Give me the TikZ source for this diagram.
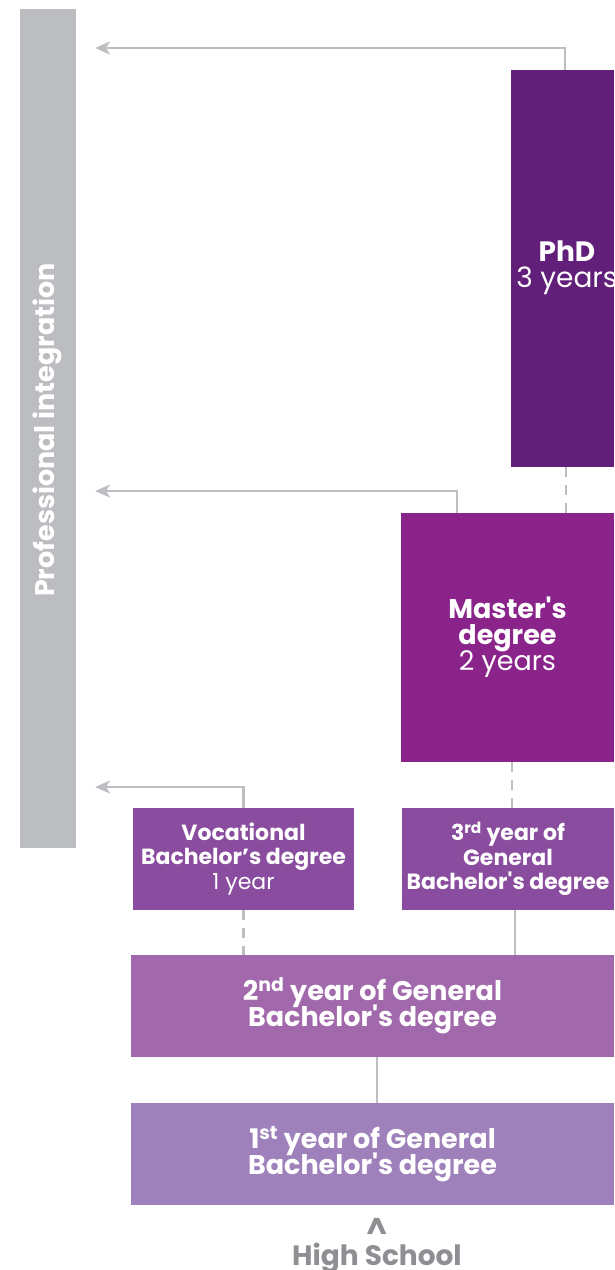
\documentclass[tikz,border=0pt]{standalone}
\usepackage{fontspec}
\setmainfont{Poppins}[Ligatures=TeXOff]
\usetikzlibrary{arrows.meta}
\definecolor{bargray}{HTML}{BCBDC1}
\definecolor{linegray}{HTML}{BDBEC2}
\definecolor{phdc}{HTML}{621F7A}
\definecolor{masterc}{HTML}{8A248B}
\definecolor{thirdc}{HTML}{894C9E}
\definecolor{secondc}{HTML}{A169AC}
\definecolor{firstc}{HTML}{9E80BA}
\definecolor{hsgray}{HTML}{8E8F92}
\newcommand{\tightls}{\lineskiplimit=-30pt\relax\lineskip=0pt\relax}
\begin{document}
\begin{tikzpicture}[x=1pt,y=-1pt,
  box/.style={rectangle,inner sep=0pt,text=white,align=center,font=\fontsize{27}{26}\selectfont\tightls},
  sbox/.style={box,font=\fontsize{22}{24.5}\selectfont\tightls},
  conn/.style={draw=linegray,line width=2.5pt},
  dconn/.style={conn,dash pattern=on 10pt off 8pt},
  arr/.style={conn,-{Stealth[length=15pt,width=13pt,inset=4pt]}}]
\useasboundingbox (0,0) rectangle (614,1270);
% gray bar
\node[fill=bargray,minimum width=56pt,minimum height=839pt,inner sep=0pt] (bar) at (48,428.5) {};
\node[rotate=90,text=white,font=\bfseries\fontsize{27}{27}\selectfont] (bartext) at (47,430) {Professional integration};
% boxes
\node[box,fill=phdc,minimum width=103pt,minimum height=397pt] (phd) at (562.5,268.5) {};
\node[box,font=\fontsize{28}{26}\selectfont\tightls] (phdt) at (567,268) {\textbf{PhD}\\3 years};
\node[box,fill=masterc,minimum width=213pt,minimum height=249pt] (master) at (507.5,637.5) {\textbf{Master's}\\\textbf{degree}\\2 years};
\node[sbox,fill=thirdc,minimum width=221pt,minimum height=102pt] (voc) at (243.5,859) {\textbf{Vocational}\\\textbf{Bachelor’s degree}\\1 year};
\node[sbox,fill=thirdc,minimum width=212pt,minimum height=102pt] (third) at (508,859) {\textbf{3\textsuperscript{rd} year of}\\\textbf{General}\\\textbf{Bachelor's degree}};
\node[box,fill=secondc,minimum width=483pt,minimum height=102pt] (second) at (372.5,1006) {\textbf{2\textsuperscript{nd} year of General}\\\textbf{Bachelor's degree}};
\node[box,fill=firstc,minimum width=483pt,minimum height=102pt] (first) at (372.5,1154) {\textbf{1\textsuperscript{st} year of General}\\\textbf{Bachelor's degree}};
\node[text=hsgray,font=\bfseries\fontsize{30}{30}\selectfont,inner sep=0pt,text height=14pt,text depth=0pt] (caret) at (377,1232) {\textasciicircum};
\node[text=hsgray,font=\bfseries\fontsize{28}{28}\selectfont,inner sep=0pt] (hs) at (377,1258) {High School};
% arrow end points
\coordinate (e1) at (95,48);
\coordinate (e2) at (95,491);
\coordinate (e3) at (95,787);
\draw[arr] ([xshift=2.5pt]phd.north) |- (e1);
\draw[arr] ([xshift=-50.5pt]master.north) |- (e2);
\draw[arr] (voc.north) |- (e3);
% links
\draw[dconn] ([xshift=3.5pt]phd.south) -- ([xshift=3.5pt]phd.south |- master.north);
\draw[dconn] ([xshift=4.5pt]master.south) -- ([xshift=4.5pt]master.south |- third.north);
\draw[dconn] (voc.south) -- (voc.south |- second.north);
\draw[conn] ([xshift=7pt]third.south) -- ([xshift=7pt]third.south |- second.north);
\draw[conn] ([xshift=4.5pt]second.south) -- ([xshift=4.5pt]second.south |- first.north);
\end{tikzpicture}
\end{document}
